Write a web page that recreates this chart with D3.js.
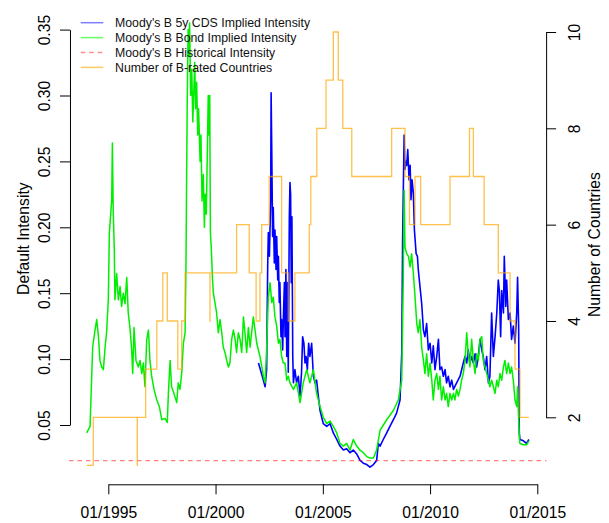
<!DOCTYPE html>
<html>
<head>
<meta charset="utf-8">
<script src="https://cdn.jsdelivr.net/npm/d3@7"></script>
<style>
  html, body { margin: 0; padding: 0; background: #fff; }
  svg { display: block; font-family: "Liberation Sans", Arial, Helvetica, sans-serif; }
</style>
</head>
<body>
<svg id="chart" width="609" height="523"></svg>
<script>
// ---------------- DATA (decimal years) ----------------
const bondYears = [1993.99,1994.15,1994.27,1994.38,1994.46,1994.54,1994.61,1994.69,1994.77,1994.85,1994.92,1995.0,1995.05,1995.16,1995.19,1995.23,1995.28,1995.31,1995.39,1995.47,1995.55,1995.62,1995.70,1995.78,1995.86,1995.93,1996.01,1996.09,1996.14,1996.20,1996.29,1996.40,1996.48,1996.56,1996.63,1996.71,1996.79,1996.87,1996.94,1997.02,1997.13,1997.26,1997.38,1997.49,1997.64,1997.75,1997.80,1997.88,1997.95,1998.06,1998.19,1998.26,1998.34,1998.42,1998.50,1998.58,1998.62,1998.65,1998.68,1998.72,1998.76,1998.79,1998.84,1998.89,1998.94,1998.98,1999.03,1999.07,1999.12,1999.17,1999.21,1999.28,1999.32,1999.37,1999.43,1999.48,1999.52,1999.57,1999.62,1999.66,1999.69,1999.73,1999.76,1999.80,1999.86,1999.90,2000.05,2000.13,2000.21,2000.29,2000.36,2000.44,2000.52,2000.60,2000.67,2000.75,2000.83,2000.91,2000.98,2001.06,2001.14,2001.22,2001.30,2001.37,2001.45,2001.53,2001.61,2001.76,2001.92,2002.07,2002.23,2002.31,2002.38,2002.46,2002.54,2002.62,2002.69,2002.77,2002.85,2002.93,2003.00,2003.08,2003.16,2003.24,2003.32,2003.39,2003.47,2003.63,2003.78,2003.94,2004.09,2004.25,2004.40,2004.56,2004.71,2004.87,2005.02,2005.18,2005.34,2005.49,2005.65,2005.80,2005.96,2006.11,2006.27,2006.42,2006.58,2006.73,2006.89,2007.05,2007.20,2007.36,2007.51,2007.67,2007.98,2008.29,2008.52,2008.68,2008.75,2008.79,2008.83,2008.91,2008.99,2009.07,2009.14,2009.22,2009.30,2009.38,2009.45,2009.53,2009.61,2009.69,2009.76,2009.84,2009.92,2010.00,2010.08,2010.15,2010.23,2010.31,2010.39,2010.46,2010.54,2010.62,2010.70,2010.77,2010.85,2010.93,2011.01,2011.09,2011.16,2011.24,2011.32,2011.40,2011.47,2011.55,2011.63,2011.71,2011.78,2011.86,2011.94,2012.02,2012.10,2012.17,2012.25,2012.33,2012.41,2012.48,2012.56,2012.64,2012.72,2012.79,2012.87,2012.95,2013.03,2013.11,2013.18,2013.26,2013.34,2013.42,2013.49,2013.57,2013.65,2013.73,2013.80,2013.88,2013.96,2014.04,2014.08,2014.12,2014.16,2014.19,2014.35,2014.50,2014.61];
const bondValues = [0.044,0.049,0.109,0.122,0.130,0.117,0.099,0.094,0.092,0.109,0.120,0.145,0.196,0.221,0.264,0.213,0.183,0.145,0.165,0.145,0.155,0.140,0.150,0.142,0.162,0.135,0.124,0.107,0.089,0.124,0.099,0.094,0.099,0.089,0.097,0.079,0.115,0.122,0.099,0.087,0.077,0.069,0.064,0.054,0.055,0.052,0.074,0.099,0.079,0.074,0.067,0.082,0.077,0.089,0.112,0.120,0.170,0.234,0.297,0.350,0.330,0.355,0.300,0.320,0.280,0.300,0.325,0.290,0.310,0.270,0.290,0.250,0.270,0.220,0.240,0.200,0.225,0.210,0.260,0.300,0.270,0.300,0.196,0.185,0.160,0.150,0.135,0.120,0.130,0.120,0.109,0.105,0.099,0.094,0.097,0.115,0.122,0.115,0.105,0.120,0.115,0.105,0.132,0.120,0.105,0.124,0.109,0.132,0.112,0.102,0.087,0.082,0.107,0.147,0.158,0.143,0.147,0.132,0.125,0.112,0.115,0.102,0.097,0.097,0.084,0.087,0.082,0.077,0.082,0.067,0.082,0.092,0.082,0.092,0.074,0.064,0.056,0.051,0.053,0.049,0.044,0.036,0.034,0.036,0.031,0.039,0.034,0.031,0.029,0.026,0.025,0.025,0.031,0.046,0.054,0.061,0.069,0.084,0.160,0.228,0.185,0.180,0.178,0.170,0.180,0.165,0.147,0.127,0.120,0.130,0.109,0.099,0.089,0.104,0.087,0.097,0.084,0.069,0.084,0.089,0.077,0.087,0.069,0.079,0.069,0.074,0.064,0.074,0.069,0.074,0.069,0.077,0.072,0.077,0.084,0.089,0.099,0.120,0.104,0.094,0.115,0.099,0.089,0.104,0.099,0.115,0.117,0.099,0.094,0.089,0.084,0.079,0.084,0.079,0.074,0.084,0.079,0.089,0.084,0.094,0.099,0.089,0.097,0.089,0.094,0.084,0.069,0.064,0.079,0.059,0.041,0.036,0.035,0.035,0.038];

const cdsYears = [2002.0,2002.23,2002.31,2002.38,2002.43,2002.46,2002.51,2002.57,2002.59,2002.62,2002.66,2002.69,2002.74,2002.77,2002.82,2002.85,2002.90,2002.93,2002.97,2003.00,2003.05,2003.08,2003.13,2003.16,2003.21,2003.24,2003.28,2003.32,2003.36,2003.39,2003.44,2003.47,2003.50,2003.53,2003.56,2003.60,2003.63,2003.70,2003.78,2003.86,2003.94,2004.01,2004.06,2004.12,2004.17,2004.22,2004.28,2004.34,2004.40,2004.48,2004.56,2004.64,2004.71,2004.79,2004.87,2005.02,2005.18,2005.34,2005.49,2005.65,2005.80,2005.96,2006.11,2006.27,2006.42,2006.58,2006.73,2006.89,2007.05,2007.20,2007.36,2007.51,2007.59,2007.67,2007.82,2007.98,2008.13,2008.29,2008.44,2008.60,2008.68,2008.72,2008.79,2008.83,2008.88,2008.91,2008.96,2009.02,2009.07,2009.11,2009.16,2009.22,2009.27,2009.35,2009.41,2009.45,2009.53,2009.61,2009.69,2009.76,2009.84,2009.92,2010.00,2010.08,2010.15,2010.23,2010.31,2010.39,2010.46,2010.54,2010.62,2010.70,2010.77,2010.85,2010.93,2011.01,2011.09,2011.24,2011.40,2011.55,2011.63,2011.71,2011.78,2011.86,2011.94,2012.02,2012.10,2012.17,2012.25,2012.33,2012.41,2012.48,2012.56,2012.64,2012.72,2012.79,2012.87,2012.95,2013.03,2013.11,2013.18,2013.23,2013.29,2013.34,2013.42,2013.46,2013.53,2013.57,2013.65,2013.73,2013.80,2013.88,2013.96,2014.04,2014.08,2014.13,2014.16,2014.19,2014.35,2014.50,2014.61];
const cdsValues = [0.097,0.084,0.079,0.092,0.170,0.196,0.178,0.221,0.302,0.259,0.193,0.215,0.173,0.198,0.168,0.193,0.160,0.178,0.143,0.158,0.117,0.130,0.107,0.130,0.158,0.117,0.168,0.102,0.158,0.090,0.208,0.234,0.225,0.158,0.208,0.102,0.082,0.092,0.082,0.087,0.072,0.090,0.117,0.112,0.097,0.102,0.092,0.112,0.102,0.112,0.087,0.082,0.084,0.072,0.061,0.051,0.049,0.051,0.044,0.039,0.034,0.031,0.032,0.029,0.031,0.028,0.0234,0.021,0.020,0.018,0.020,0.023,0.036,0.034,0.039,0.044,0.049,0.054,0.059,0.069,0.105,0.190,0.270,0.244,0.250,0.247,0.259,0.236,0.247,0.221,0.236,0.226,0.198,0.180,0.178,0.168,0.155,0.142,0.122,0.117,0.127,0.107,0.112,0.097,0.110,0.092,0.102,0.115,0.092,0.094,0.087,0.092,0.082,0.087,0.079,0.084,0.077,0.082,0.087,0.097,0.102,0.097,0.107,0.097,0.102,0.097,0.104,0.094,0.102,0.115,0.107,0.102,0.092,0.102,0.082,0.087,0.135,0.102,0.117,0.135,0.160,0.152,0.117,0.152,0.135,0.178,0.140,0.160,0.130,0.135,0.115,0.125,0.112,0.135,0.162,0.125,0.044,0.039,0.038,0.036,0.039];

const historicalIntensity = 0.0229;

// Number of B-rated countries: change points (year, count), step function
const countryYears  = [1993.99,1994.30,1996.35,1996.353,1996.74,1997.26,1997.54,1997.75,1998.24,1998.42,1998.58,1999.74,1999.743,2000.98,2001.57,2001.89,2002.07,2002.15,2002.50,2003.08,2003.39,2003.70,2004.37,2004.44,2004.72,2005.15,2005.49,2005.72,2005.93,2006.35,2008.21,2008.83,2009.04,2009.30,2009.56,2010.93,2011.84,2012.02,2012.52,2013.18,2013.73,2013.96,2014.19,2014.61];
const countryCounts = [1,2,1,2,3,4,5,4,3,4,5,4,5,6,5,4,5,6,7,5,4,5,6,7,8,9,10,9,8,7,8,7,6,7,6,7,8,7,6,5,4,3,2,2];

const leftTicks  = [0.05,0.10,0.15,0.20,0.25,0.30,0.35];
const rightTicks = [2,4,6,8,10];
const xTickYears = [1995,2000,2005,2010,2015];

const legendLabels = ["Moody's B 5y CDS Implied Intensity","Moody's B Bond Implied Intensity","Moody's B Historical Intensity","Number of B-rated Countries"];

// ---------------- helpers ----------------
function toDate(y) {
  const yr = Math.floor(y);
  const a = new Date(yr, 0, 1), b = new Date(yr + 1, 0, 1);
  return new Date(+a + (y - yr) * (b - a));
}

const svg = d3.select("#chart");

// scales
const x = d3.scaleTime()
  .domain([new Date(1995,0,1), new Date(2015,0,1)])
  .range([108.3, 537.3]);
const yL = d3.scaleLinear().domain([0.05, 0.35]).range([425, 29.6]);
const yR = d3.scaleLinear().domain([2, 10]).range([417.3, 32]);

// plot region: data extent +/- 4% (R style)
const ext = d3.extent(bondYears.concat(cdsYears));
const pad = (ext[1] - ext[0]) * 0.04;
const px0 = x(toDate(ext[0] - pad)), px1 = x(toDate(ext[1] + pad));
const py0 = 5, py1 = 484.3;

svg.append("defs").append("clipPath").attr("id", "clip")
  .append("rect").attr("x", px0).attr("y", py0).attr("width", px1 - px0).attr("height", py1 - py0);

const plot = svg.append("g").attr("clip-path", "url(#clip)");

const cds = cdsYears.map((d, i) => [toDate(d), cdsValues[i]]);
const bond = bondYears.map((d, i) => [toDate(d), bondValues[i]]);
const countries = countryYears.map((d, i) => [toDate(d), countryCounts[i]]);

const lineL = d3.line().x(d => x(d[0])).y(d => yL(d[1]));
const lineR = d3.line().x(d => x(d[0])).y(d => yR(d[1])).curve(d3.curveStepAfter);

plot.append("path").datum(cds)
  .attr("d", lineL).attr("fill", "none").attr("stroke", "#0000ff")
  .attr("stroke-width", 1.6).attr("stroke-linejoin", "round");
plot.append("path").datum(bond)
  .attr("d", lineL).attr("fill", "none").attr("stroke", "#00ee00")
  .attr("stroke-width", 1.5).attr("stroke-linejoin", "round");

plot.append("line")
  .attr("x1", px0).attr("x2", px1)
  .attr("y1", yL(historicalIntensity)).attr("y2", yL(historicalIntensity))
  .attr("stroke", "rgba(255,0,0,0.5)").attr("stroke-width", 1.2)
  .attr("stroke-dasharray", "4.5,4");

plot.append("path").datum(countries)
  .attr("d", lineR).attr("fill", "none").attr("stroke", "rgba(255,165,0,0.7)")
  .attr("stroke-width", 1.3);

// ---------------- axes ----------------
const axisFont = "15.7px";

const gx = svg.append("g").attr("transform", `translate(0,${py1})`)
  .call(d3.axisBottom(x).tickValues(xTickYears.map(y => new Date(y,0,1)))
    .tickFormat(d3.timeFormat("%m/%Y")).tickSize(10).tickSizeOuter(0).tickPadding(13));
gx.selectAll("text").attr("font-size", axisFont).attr("fill", "#000");

const gl = svg.append("g").attr("transform", `translate(${px0 + 1},0)`)
  .call(d3.axisLeft(yL).tickValues(leftTicks).tickFormat(d3.format(".2f")).tickSize(10).tickSizeOuter(0));
gl.selectAll("text")
  .attr("font-size", axisFont).attr("fill", "#000")
  .attr("text-anchor", "middle").attr("x", null).attr("dy", null)
  .attr("transform", "translate(-20,0) rotate(-90)");

const gr = svg.append("g").attr("transform", `translate(${px1 - 0.5},0)`)
  .call(d3.axisRight(yR).tickValues(rightTicks).tickFormat(d3.format("d")).tickSize(10).tickSizeOuter(0));
gr.selectAll("text")
  .attr("font-size", axisFont).attr("fill", "#000")
  .attr("text-anchor", "middle").attr("x", null).attr("dy", null)
  .attr("transform", "translate(34,0) rotate(-90)");

svg.selectAll(".domain, .tick line").attr("stroke", "#000").attr("stroke-width", 1);

// axis titles
svg.append("text").attr("transform", `translate(28.5,${(py0 + py1) / 2 - 6}) rotate(-90)`)
  .attr("text-anchor", "middle").attr("font-size", axisFont).attr("fill", "#000")
  .text("Default Intensity");
svg.append("text").attr("transform", `translate(600,${(py0 + py1) / 2}) rotate(-90)`)
  .attr("text-anchor", "middle").attr("font-size", axisFont).attr("fill", "#000")
  .text("Number of Countries");

// ---------------- legend ----------------
const legendColors = ["rgba(0,0,255,0.5)","rgba(0,255,0,0.6)","rgba(255,0,0,0.45)","rgba(255,165,0,0.6)"];
const legendDash = [null, null, "4.5,4", null];
const lg = svg.append("g");
legendLabels.forEach((lab, i) => {
  const yy = 22.7 + i * 14.9;
  lg.append("line").attr("x1", 80.7).attr("x2", 103.3).attr("y1", yy).attr("y2", yy)
    .attr("stroke", legendColors[i]).attr("stroke-width", 1.5)
    .attr("stroke-dasharray", legendDash[i]);
  lg.append("text").attr("x", 115).attr("y", yy + 4.4)
    .attr("font-size", "12.3px").attr("fill", "#111").text(lab);
});
</script>
</body>
</html>
